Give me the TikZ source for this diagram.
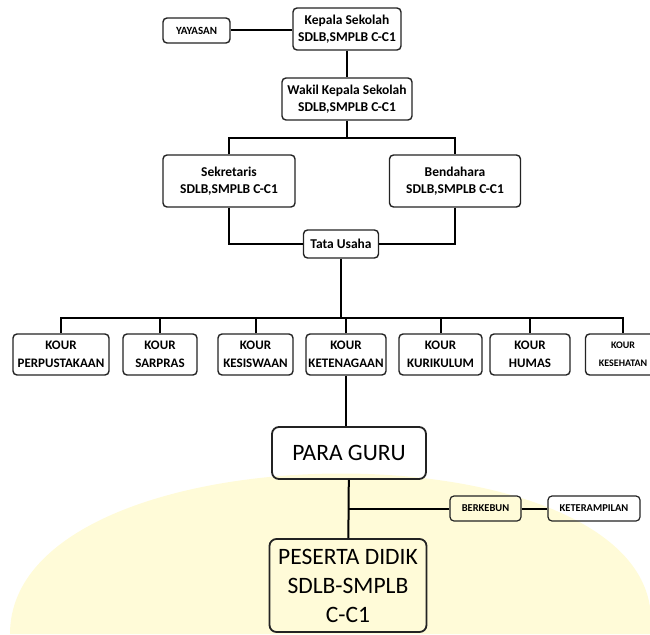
\documentclass[tikz,border=0pt]{standalone}
\usepackage{fontspec}
\setmainfont{Carlito}
\usetikzlibrary{positioning}

\definecolor{wmyellow}{RGB}{255,251,216}
\definecolor{boxline}{RGB}{35,35,35}

\tikzset{
  box/.style={draw=boxline, line width=1.4pt, rounded corners=4pt, align=center,
    inner sep=2pt, font=\bfseries\fontsize{13.5}{17}\selectfont},
  kour/.style={box, minimum height=41pt, font=\bfseries\fontsize{13}{18}\selectfont},
  big/.style={box, line width=1.8pt, rounded corners=7pt, font=\fontsize{23.5}{29}\selectfont},
  small/.style={box, line width=1.2pt, minimum height=25pt, font=\bfseries\fontsize{10.5}{12}\selectfont},
  link/.style={line width=2pt, draw=black}
}

\begin{document}
\begin{tikzpicture}[x=1pt, y=-1pt]
    \useasboundingbox (0,0) rectangle (650,634);
    % faint background
    \fill[wmyellow] (10,634) .. controls (10,420) and (680,420) .. (650,634) -- cycle;

    % top
    \node [box, minimum width=108pt, minimum height=42pt] (Kepala) at (347, 29) {Kepala Sekolah\\SDLB,SMPLB C-C1};
    \node [box, font=\bfseries\fontsize{11}{13}\selectfont, minimum width=67pt, minimum height=25pt] (Yayasan) at (196.5, 30.5) {YAYASAN};
    \node [box, minimum width=130pt, minimum height=42pt] (Wakil) at (347, 99) {Wakil Kepala Sekolah\\SDLB,SMPLB C-C1};
    \node [box, minimum width=132pt, minimum height=52pt] (Sekretaris) at (229, 181) {Sekretaris\\SDLB,SMPLB C-C1};
    \node [box, minimum width=131pt, minimum height=52pt] (Bendahara) at (455, 181) {Bendahara\\SDLB,SMPLB C-C1};
    \node [box, minimum width=75pt, minimum height=28pt] (TataUsaha) at (341, 244) {Tata Usaha};

    \draw [link] (Yayasan.east) -- (Yayasan.east -| Kepala.west);
    \draw [link] (Kepala) -- (Wakil);
    \draw [link] (Wakil.south) -- ++(0,17) coordinate (Split);
    \draw [link] (Sekretaris.north) |- (Split) -| (Bendahara.north);
    \draw [link] (Sekretaris.south) |- (TataUsaha.west);
    \draw [link] (Bendahara.south) |- (TataUsaha.east);

    % kour row
    \node [kour, minimum width=96pt] (Perpus) at (61, 354.5) {KOUR\\PERPUSTAKAAN};
    \node [kour, minimum width=74pt] (Sarpras) at (160, 354.5) {KOUR\\SARPRAS};
    \node [kour, minimum width=75pt] (Kesiswaan) at (255.5, 354.5) {KOUR\\KESISWAAN};
    \node [kour, minimum width=80pt] (Ketenagaan) at (346, 354.5) {KOUR\\KETENAGAAN};
    \node [kour, minimum width=83pt] (Kurikulum) at (440.5, 354.5) {KOUR\\KURIKULUM};
    \node [kour, minimum width=80pt] (Humas) at (530, 354.5) {KOUR\\HUMAS};
    \node [kour, minimum width=75pt, font=\bfseries\fontsize{10}{18}\selectfont] (Kesehatan) at (623, 354.5) {KOUR\\KESEHATAN};

    \draw [link] (TataUsaha.south) -- ++(0,59) coordinate (Bus);
    \draw [link] (Perpus.north) |- (Bus) -| (Kesehatan.north);
    \foreach \k in {Sarpras, Kesiswaan, Ketenagaan, Kurikulum, Humas}
        \draw [link] (\k.north) -- (\k.north |- Bus);

    % bottom
    \node [big, minimum width=154pt, minimum height=52pt] (ParaGuru) at (349, 453) {PARA GURU};
    \node [big, minimum width=157pt, minimum height=93pt] (Peserta) at (348, 585.5) {PESERTA DIDIK\\SDLB-SMPLB\\C-C1};
    \node [small, minimum width=71pt] (Berkebun) at (485.5, 508.5) {BERKEBUN};
    \node [small, minimum width=92pt] (Keterampilan) at (594, 508.5) {KETERAMPILAN};

    \draw [link] (Ketenagaan.south) -- (ParaGuru.north -| Ketenagaan.south);
    \draw [link] (ParaGuru) -- (Peserta);
    \coordinate (Fork) at (ParaGuru.south |- Berkebun.west);
    \draw [link] (Fork) -- (Berkebun.west);
    \draw [link] (Berkebun) -- (Keterampilan);
\end{tikzpicture}
\end{document}
